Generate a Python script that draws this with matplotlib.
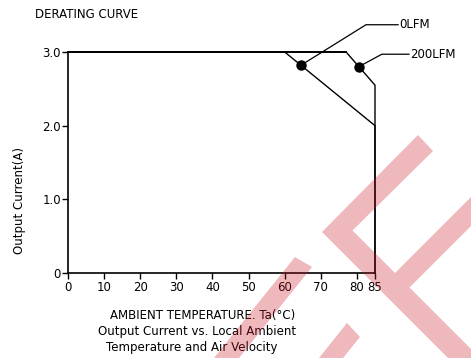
import numpy as np
import matplotlib
matplotlib.use('Agg')
import matplotlib.pyplot as plt
from matplotlib.patches import Polygon

plt.rc('font', family='DejaVu Sans', size=8.5)

# derating curves: ambient temperature (C) vs output current (A)
temp_0lfm = [0, 60, 85, 85]
curr_0lfm = [3.0, 3.0, 2.0, 0.0]
temp_200lfm = [0, 77, 85, 85]
curr_200lfm = [3.0, 3.0, 2.55, 0.0]

# points where the callouts touch each curve
dot_0lfm = (64.5, 2.82)
dot_200lfm = (80.5, 2.80)

x_ticks = [0, 10, 20, 30, 40, 50, 60, 70, 80, 85]
y_ticks = [0, 1.0, 2.0, 3.0]
y_ticklabels = ['0', '1.0', '2.0', '3.0']

W, H = 471, 358
fig = plt.figure(figsize=(W / 100, H / 100), dpi=100)
ax = fig.add_axes([68 / W, 1 - 273 / H, (375 - 68) / W, (273 - 52) / H])

ax.plot(temp_0lfm, curr_0lfm, color='black', lw=1.0, clip_on=False)
ax.plot(temp_200lfm, curr_200lfm, color='black', lw=1.0, clip_on=False)
ax.plot([0, 77], [3.0, 3.0], color='black', lw=1.4, clip_on=False)

# callouts
for (dx, dy), elbow, end, label in [
        (dot_0lfm, (82.5, 3.37), 91.4, '0LFM'),
        (dot_200lfm, (86.9, 2.97), 94.4, '200LFM')]:
    ax.plot([dx], [dy], 'o', color='black', ms=6.5, clip_on=False)
    ax.plot([dx, elbow[0], end], [dy, elbow[1], elbow[1]],
            color='black', lw=0.9, clip_on=False)
    ax.text(end + 0.4, elbow[1], label, va='center', ha='left',
            fontsize=8.5)

ax.set_xlim(0, 85)
ax.set_ylim(0, 3.0)
ax.set_xticks(x_ticks)
ax.set_xticklabels([str(t) for t in x_ticks])
ax.set_yticks(y_ticks)
ax.set_yticklabels(y_ticklabels)
ax.tick_params(direction='out', length=4, width=1.0)
ax.tick_params(axis='y', pad=1)
ax.tick_params(axis='x', pad=2)
for side in ['top', 'right']:
    ax.spines[side].set_visible(False)
for side in ['left', 'bottom']:
    ax.spines[side].set_linewidth(1.2)

fig.text(35 / W, 1 - 15 / H, 'DERATING CURVE', va='center', ha='left',
         fontsize=8.5)
fig.text(20 / W, 1 - 200 / H, 'Output Current(A)', rotation=90,
         va='center', ha='center', fontsize=8.5)
fig.text(203 / W, 1 - 316 / H, 'AMBIENT TEMPERATURE. Ta(\u00b0C)',
         va='center', ha='center', fontsize=8.5)
fig.text(197 / W, 1 - 332 / H, 'Output Current vs. Local Ambient',
         va='center', ha='center', fontsize=8.5)
fig.text(192 / W, 1 - 348 / H, 'Temperature and Air Velocity',
         va='center', ha='center', fontsize=8.5)

# pink stamp across the lower right, in pixel coordinates
def px(pts):
    return [(x / W, 1 - y / H) for x, y in pts]

stamp = [
    [(295, 257), (312, 267), (239, 358), (214, 358)],
    [(347, 323), (360, 337), (343, 358), (319, 358)],
    [(322, 232), (418, 135), (433, 151), (352.5, 230.5), (395, 273),
     (521, 147), (550, 147), (409.5, 287.5), (500, 378), (468, 378)],
]
for shape in stamp:
    fig.add_artist(Polygon(px(shape), closed=True, transform=fig.transFigure,
                           fc='#c81423', ec='none', alpha=0.3, zorder=10))

fig.savefig('out.png', dpi=100)
